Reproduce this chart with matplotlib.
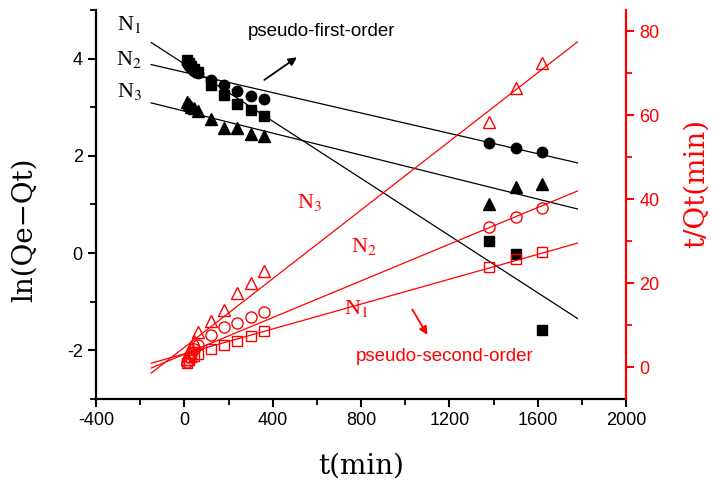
import matplotlib
matplotlib.use("Agg")
import matplotlib.pyplot as plt
import numpy as np
from matplotlib.ticker import MultipleLocator

plt.rcParams['mathtext.fontset'] = 'stix'
plt.rcParams['axes.unicode_minus'] = False

# ---- data ----
t = [10, 20, 30, 45, 60, 120, 180, 240, 300, 360, 1380, 1500, 1620]

# pseudo-first-order: ln(Qe-Qt)
pfo_N1 = [3.97, 3.92, 3.85, 3.78, 3.72, 3.45, 3.25, 3.07, 2.95, 2.82, 0.25, -0.02, -1.59]
pfo_N2 = [3.90, 3.85, 3.80, 3.74, 3.70, 3.57, 3.46, 3.34, 3.24, 3.17, 2.27, 2.17, 2.08]
pfo_N3 = [3.10, 3.06, 3.00, 2.98, 2.93, 2.76, 2.58, 2.57, 2.44, 2.40, 1.02, 1.36, 1.42]

# pseudo-second-order: t/Qt
pso_N1 = [1.0, 1.7, 2.3, 2.7, 3.1, 4.3, 5.2, 6.2, 7.4, 8.6, 23.8, 25.7, 27.4]
pso_N2 = [1.2, 2.3, 3.2, 4.2, 5.2, 7.6, 9.5, 10.5, 11.9, 13.1, 33.3, 35.7, 37.9]
pso_N3 = [2.0, 3.7, 4.8, 6.2, 8.3, 11.0, 13.6, 17.6, 20.0, 22.9, 58.3, 66.4, 72.4]

# linear fits (intercept, slope)
pfo_fit_intercept = [3.89, 3.72, 2.92]
pfo_fit_slope = [-0.00294, -0.001047, -0.00113]
pso_fit_intercept = [3.15, 3.05, 4.69]
pso_fit_slope = [0.0148, 0.02183, 0.04085]
fit_t = [-150, 1780]

series_labels = ['N$_1$', 'N$_2$', 'N$_3$']

RED = '#ff0000'
W, H = 713, 490

fig = plt.figure(figsize=(W / 100, H / 100), dpi=100)
ax = fig.add_axes([96 / W, 91 / H, 530 / W, 389 / H])
ax2 = ax.twinx()

tt = np.array(fit_t, dtype=float)

# black (left axis)
for b, m in zip(pfo_fit_intercept, pfo_fit_slope):
    ax.plot(tt, b + m * tt, color='black', lw=0.9, zorder=2)
ax.plot(t, pfo_N1, 's', color='black', ms=7, zorder=3)
ax.plot(t, pfo_N2, 'o', color='black', ms=7.5, zorder=3)
ax.plot(t, pfo_N3, '^', color='black', ms=8, zorder=3)

# red (right axis)
for b, m in zip(pso_fit_intercept, pso_fit_slope):
    ax2.plot(tt, b + m * tt, color=RED, lw=0.9, zorder=2)
ax2.plot(t, pso_N1, 's', mfc='none', mec=RED, mew=1.0, ms=7, zorder=3)
ax2.plot(t, pso_N2, 'o', mfc='none', mec=RED, mew=1.0, ms=8, zorder=3)
ax2.plot(t, pso_N3, '^', mfc='none', mec=RED, mew=1.0, ms=8.5, zorder=3)

ax.set_xlim(-400, 2000)
ax.set_ylim(-3, 5)
ax2.set_ylim(-7.6, 85)

ax.xaxis.set_major_locator(MultipleLocator(400))
ax.xaxis.set_minor_locator(MultipleLocator(200))
ax.yaxis.set_major_locator(MultipleLocator(2))
ax.yaxis.set_minor_locator(MultipleLocator(1))
ax2.yaxis.set_major_locator(MultipleLocator(20))
ax2.yaxis.set_minor_locator(MultipleLocator(10))

for a in (ax, ax2):
    a.spines['top'].set_visible(False)
ax.spines['right'].set_visible(False)
ax2.spines['left'].set_visible(False)
ax2.spines['bottom'].set_visible(False)
ax.spines['left'].set_linewidth(1.6)
ax.spines['bottom'].set_linewidth(1.6)
ax2.spines['right'].set_linewidth(1.6)
ax2.spines['right'].set_color(RED)

tickfont = 'Liberation Sans'
ax.tick_params(axis='both', which='major', direction='out', length=6, width=1.5,
               labelsize=13, colors='black')
ax.tick_params(axis='both', which='minor', direction='out', length=4, width=1.3)
ax2.tick_params(axis='y', which='major', direction='out', length=6, width=1.5,
                labelsize=13, colors=RED)
ax2.tick_params(axis='y', which='minor', direction='out', length=4, width=1.3, colors=RED)
for lab in ax.get_xticklabels() + ax.get_yticklabels() + ax2.get_yticklabels():
    lab.set_fontfamily(tickfont)

# axis titles
labfont = 'DejaVu Serif'
fig.text(361 / W, 1 - 466 / H, 't(min)', fontsize=20, family=labfont,
         ha='center', va='center')
fig.text(24 / W, 1 - 230 / H, 'ln(Qe\u2212Qt)', fontsize=20, family=labfont,
         ha='center', va='center', rotation=90)
fig.text(696 / W, 1 - 183 / H, 't/Qt(min)', fontsize=20, family=labfont,
         ha='center', va='center', rotation=90, color=RED)

# series labels
black_pos = [(-249, 4.70), (-249, 3.98), (-249, 3.32)]
red_pos = [(777, -1.13), (813, 0.14), (569, 1.05)]
for lab, (x, y) in zip(series_labels, black_pos):
    ax.text(x, y, lab, fontsize=16, family='Liberation Serif', color='black',
            ha='center', va='center')
for lab, (x, y) in zip(series_labels, red_pos):
    ax.text(x, y, lab, fontsize=16, family='Liberation Serif', color=RED,
            ha='center', va='center')

ax.text(622, 4.55, 'pseudo-first-order', fontsize=13.5, family='Liberation Sans',
        ha='center', va='center', color='black')
ax.annotate('', xy=(520, 4.06), xytext=(352, 3.53),
            arrowprops=dict(arrowstyle='-|>', color='black', lw=1.3, mutation_scale=12))
ax.text(1180, -2.12, 'pseudo-second-order', fontsize=13.5, family='Liberation Sans',
        ha='center', va='center', color=RED)
ax.annotate('', xy=(1107, -1.73), xytext=(1026, -1.11),
            arrowprops=dict(arrowstyle='-|>', color=RED, lw=1.3, mutation_scale=12))

fig.savefig('out.png', dpi=100)
